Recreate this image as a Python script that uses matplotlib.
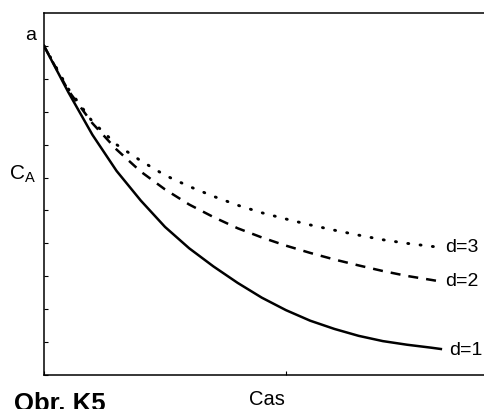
import matplotlib
matplotlib.use("Agg")
import matplotlib.pyplot as plt

plt.rcParams['font.family'] = ['Liberation Sans', 'DejaVu Sans']

# Values (x: time 0..10 across the axis, y: C_A relative to a = 1)
x_d1 = [0, 0.5, 1.0, 1.5, 2.0, 2.5, 3.0, 3.5, 4.0, 4.5, 5.0, 5.5, 6.0, 6.5, 7.0, 7.5, 8.0, 8.2]
y_d1 = [1.0, 0.86, 0.73, 0.62, 0.53, 0.45, 0.385, 0.33, 0.28, 0.235, 0.197, 0.165, 0.14, 0.119, 0.103, 0.092, 0.083, 0.079]

x_d2 = [0, 0.5, 1.0, 1.5, 2.0, 2.5, 3.0, 3.5, 4.0, 4.5, 5.0, 5.5, 6.0, 6.5, 7.0, 7.5, 8.0, 8.12]
y_d2 = [1.0, 0.865, 0.765, 0.685, 0.618, 0.564, 0.518, 0.480, 0.446, 0.418, 0.393, 0.371, 0.351, 0.333, 0.316, 0.301, 0.289, 0.286]

x_d3 = [0, 0.5, 1.0, 1.5, 2.0, 2.5, 3.0, 3.5, 4.0, 4.5, 5.0, 5.5, 6.0, 6.5, 7.0, 7.5, 8.0, 8.12]
y_d3 = [1.0, 0.87, 0.77, 0.70, 0.651, 0.607, 0.573, 0.543, 0.516, 0.493, 0.474, 0.456, 0.440, 0.425, 0.411, 0.400, 0.391, 0.389]

labels = ["d=1", "d=2", "d=3"]
y_ticks = [0.1 * i for i in range(11)]
x_ticks = [0, 5, 10]

fig = plt.figure(figsize=(4.84, 4.10), dpi=100)
ax = fig.add_axes([44 / 484, 34 / 410, 484 / 484, 362 / 410])
ax.set_xlim(0, 10)
ax.set_ylim(0, 1.1)

lw = 1.8
ax.plot(x_d1, y_d1, color='black', lw=lw, solid_joinstyle='round')
l2, = ax.plot(x_d2, y_d2, color='black', lw=lw)
l2.set_dashes((4.0, 3.2))
l3, = ax.plot(x_d3, y_d3, color='black', lw=2.1, dash_capstyle='round')
l3.set_dashes((0.35, 3.9))

for xs, ys, lab in [(x_d1, y_d1, labels[0]), (x_d2, y_d2, labels[1]), (x_d3, y_d3, labels[2])]:
    ax.annotate(lab, xy=(xs[-1], ys[-1]), xytext=(6, 0), textcoords='offset points',
                va='center', ha='left', fontsize=14)

for s in ax.spines.values():
    s.set_linewidth(1.1)

ax.set_yticks(y_ticks)
ax.set_xticks(x_ticks)
ax.tick_params(direction='in', length=3, width=0.8, labelleft=False, labelbottom=False)

fig.text(36 / 484, 1 - 36 / 410, "a", ha='right', va='center', fontsize=14)
fig.text(9 / 484, 1 - 174 / 410, r"$\mathregular{C_A}$", ha='left', va='center', fontsize=15)
fig.text(267 / 484, 1 - 400 / 410, "Cas", ha='center', va='center', fontsize=14.5)
fig.text(14 / 484, 1 - 411 / 410, "Obr. K5", ha='left', va='baseline', fontsize=18.5, fontweight='bold')

fig.savefig("out.png", dpi=100)
